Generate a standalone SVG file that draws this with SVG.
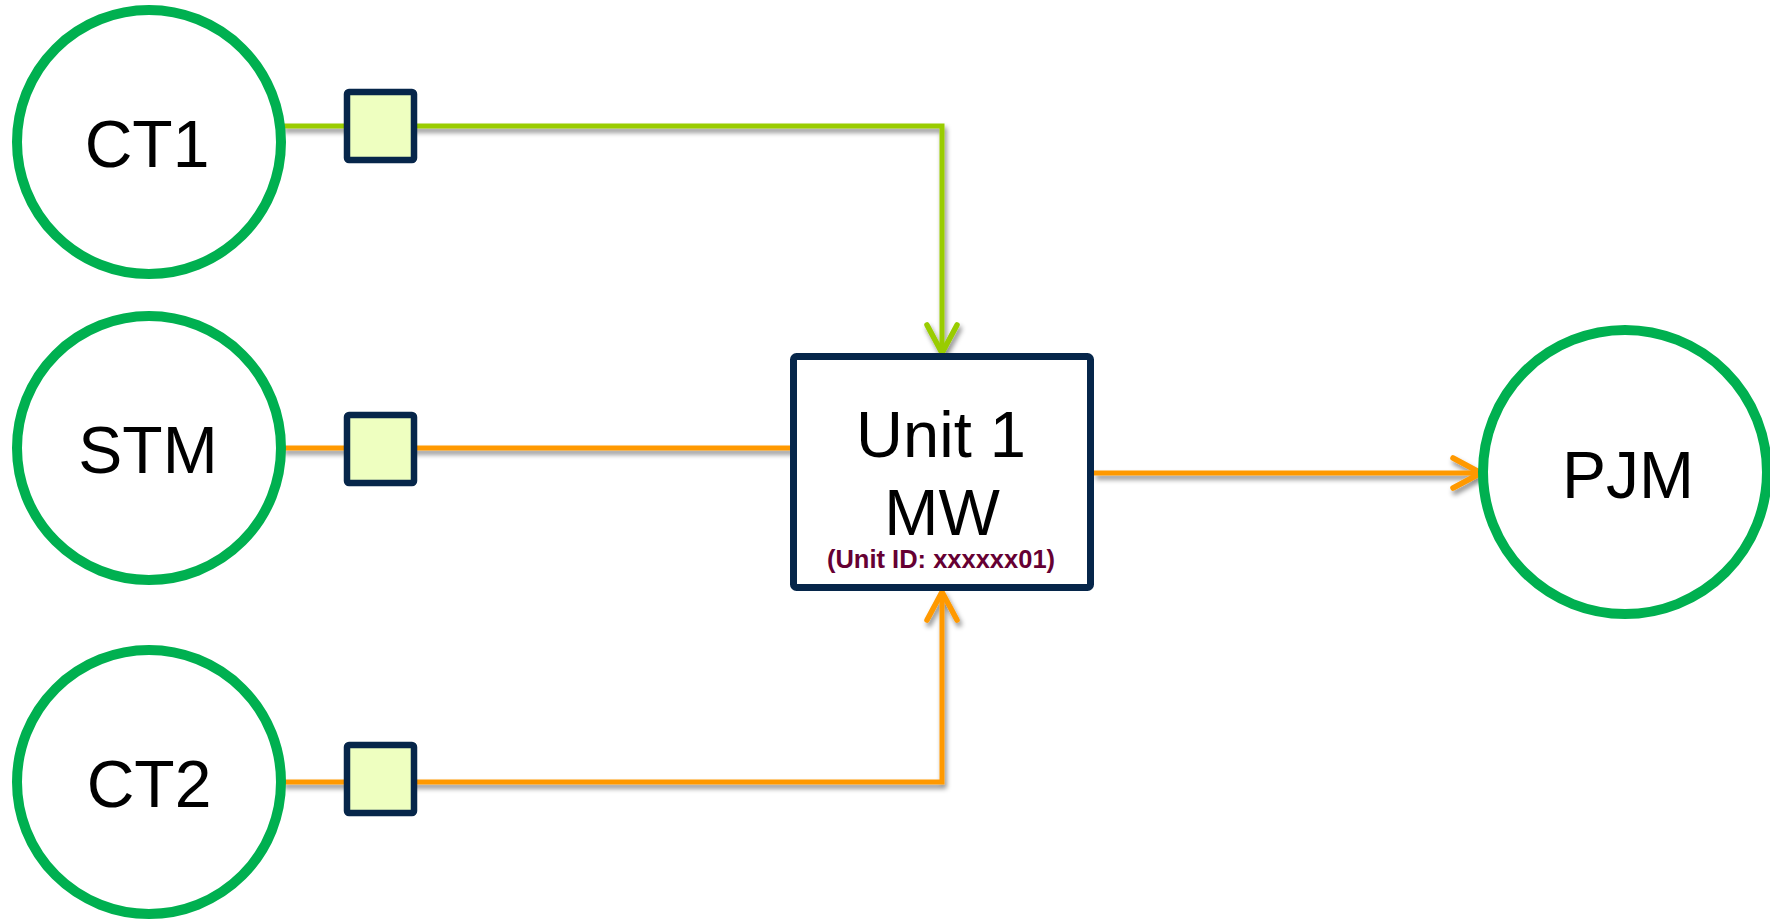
<svg xmlns="http://www.w3.org/2000/svg" width="1770" height="920" viewBox="0 0 1770 920">
<style>
.circ{fill:#fff;stroke:#00B050;stroke-width:10}
.sq{fill:#EEFFC0;stroke:#06264A;stroke-width:6.5}
.big{font-family:"Liberation Sans",Arial,sans-serif;font-size:66px;fill:#000;text-anchor:middle}
.id{font-family:"Liberation Sans",Arial,sans-serif;font-size:25.5px;font-weight:bold;fill:#660033;text-anchor:middle}
.ln{fill:none;stroke-width:5}
.g{stroke:#99CC00}
.o{stroke:#FF9900}
</style>
<defs>
<filter id="sh" x="-10%" y="-10%" width="130%" height="140%">
<feDropShadow dx="2" dy="4" stdDeviation="2.5" flood-color="#000" flood-opacity="0.45"/>
</filter>
<marker id="ag" markerUnits="userSpaceOnUse" markerWidth="40" markerHeight="40" refX="29" refY="17" orient="auto" overflow="visible">
<path d="M1,2 L29,17 L1,32" fill="none" stroke="#99CC00" stroke-width="5.5" stroke-linecap="round" stroke-linejoin="round"/>
</marker>
<marker id="ao" markerUnits="userSpaceOnUse" markerWidth="40" markerHeight="40" refX="29" refY="17" orient="auto" overflow="visible">
<path d="M1,2 L29,17 L1,32" fill="none" stroke="#FF9900" stroke-width="5.5" stroke-linecap="round" stroke-linejoin="round"/>
</marker>
</defs>
<rect width="1770" height="920" fill="#fff"/>
<g id="connectors" filter="url(#sh)">
<path class="ln g" d="M282,126 H942 V353" marker-end="url(#ag)"/>
<path class="ln o" d="M282,448 H793"/>
<path class="ln o" d="M282,782 H942 V592" marker-end="url(#ao)"/>
<path class="ln o" d="M1094,473 H1481" marker-end="url(#ao)"/>
</g>
<g id="CT1"><circle class="circ" cx="149" cy="142" r="132"/><text class="big" x="147" y="167">CT1</text></g>
<g id="STM"><circle class="circ" cx="149" cy="448" r="132"/><text class="big" x="148" y="473">STM</text></g>
<g id="CT2"><circle class="circ" cx="149" cy="782" r="132"/><text class="big" x="149" y="807">CT2</text></g>
<g id="PJM"><circle class="circ" cx="1625" cy="472" r="142"/><text class="big" x="1628" y="498">PJM</text></g>
<g id="meter1"><rect class="sq" x="347" y="92" width="67" height="68" rx="2"/></g>
<g id="meter2"><rect class="sq" x="347" y="415" width="67" height="68" rx="2"/></g>
<g id="meter3"><rect class="sq" x="347" y="745" width="67" height="68" rx="2"/></g>
<g id="unit1">
<rect x="793.5" y="356.5" width="297" height="231" rx="3" fill="#fff" stroke="#06264A" stroke-width="7"/>
<text class="big" x="941" y="457" style="font-size:65px">Unit 1</text>
<text class="big" x="942" y="535" style="font-size:65px">MW</text>
<text class="id" x="941" y="568">(Unit ID: xxxxxx01)</text>
</g>
</svg>
